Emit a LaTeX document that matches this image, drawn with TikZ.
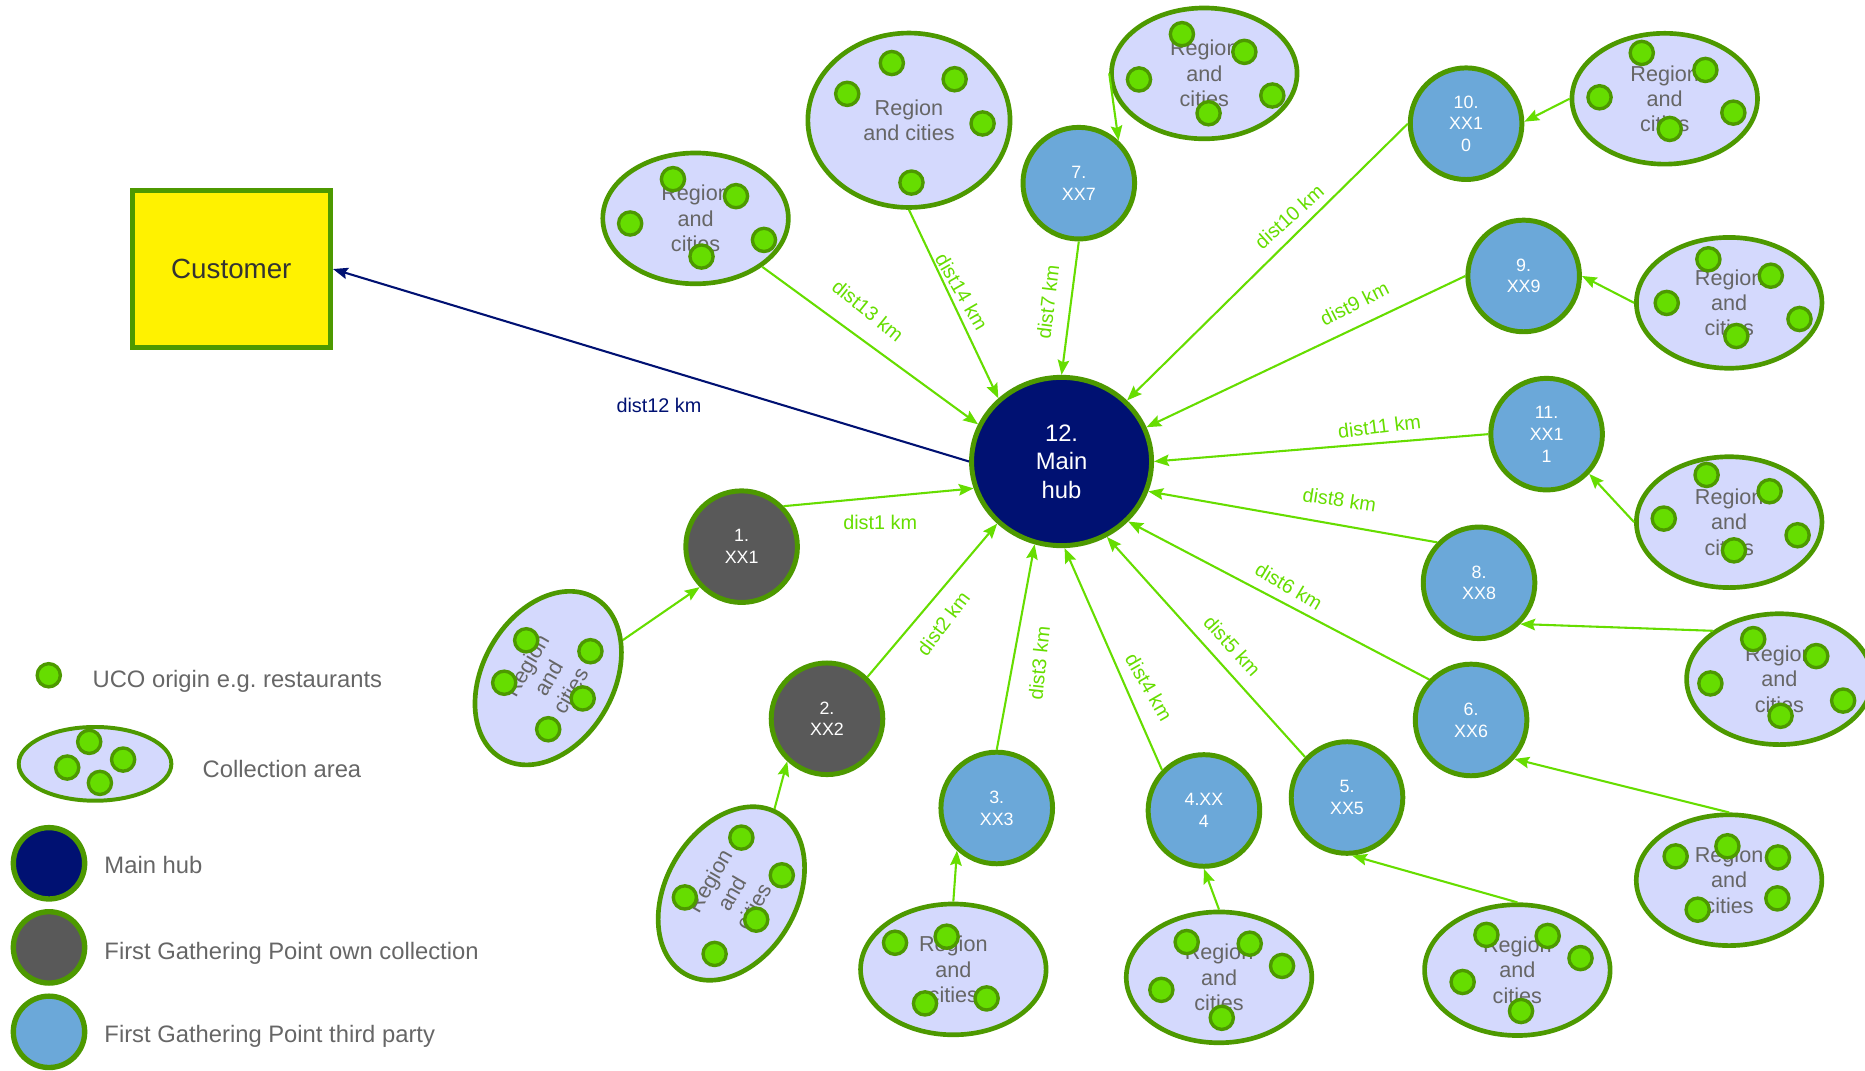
\documentclass[tikz,border=0pt]{standalone}
\usepackage{fontspec}
\setmainfont{Liberation Sans}
\usetikzlibrary{shapes.geometric,arrows.meta}
\definecolor{bord}{HTML}{4D9900}
\definecolor{dotf}{HTML}{66DD00}
\definecolor{edgec}{HTML}{66DD00}
\definecolor{hubc}{HTML}{001172}
\definecolor{grayc}{HTML}{595959}
\definecolor{bluec}{HTML}{6BA8D9}
\definecolor{regc}{HTML}{D4D9FD}
\definecolor{txtc}{HTML}{666666}
\definecolor{custtxt}{HTML}{333333}
\tikzset{
  hub/.style={ellipse, draw=bord, line width=2.5pt, fill=hubc, minimum width=90.8pt, minimum height=84.9pt, inner sep=0pt, text=white, align=center, font=\fontsize{12}{14.3}\selectfont},
  fgp/.style={circle, draw=bord, line width=2.5pt, minimum size=56.3pt, inner sep=0pt, text=white, align=center, font=\fontsize{9}{11}\selectfont},
  own/.style={fgp, fill=grayc},
  third/.style={fgp, fill=bluec},
  region/.style={ellipse, draw=bord, line width=2.35pt, fill=regc, minimum width=93.6pt, minimum height=66pt, inner sep=0pt, text=txtc, align=center, font=\fontsize{10.9}{12.8}\selectfont},
  uco/.style={circle, draw=bord, line width=1.7pt, fill=dotf, minimum size=11.7pt, inner sep=0pt},
  custbox/.style={rectangle, draw=bord, line width=2.5pt, fill=yellow, minimum width=100.1pt, minimum height=78.9pt, inner sep=0pt, text=custtxt, font=\fontsize{14}{16}\selectfont},
  flow/.style={draw=edgec, line width=1.05pt, -{Stealth[length=7.5pt,width=5.8pt,inset=1.2pt]}},
  navyflow/.style={draw=hubc, line width=1.05pt, -{Stealth[length=7.5pt,width=5.8pt,inset=1.2pt]}},
  lbl/.style={text=edgec, inner sep=0pt, font=\fontsize{10}{12}\selectfont},
  legtxt/.style={anchor=base west, inner sep=0pt, text=txtc, font=\fontsize{12}{14}\selectfont},
  legcirc/.style={circle, draw=bord, line width=2.7pt, minimum size=36pt, inner sep=0pt}
}
\begin{document}
\begin{tikzpicture}[x=0.6pt,y=-0.6pt]
\useasboundingbox (0,0) rectangle (1568,900.4);

% main nodes
\node[hub] (hub) at (892.5,388) {12.\\Main\\hub};
\node[custbox] (cust) at (194.5,226.2) {Customer};
\node[own] (n1) at (623.5,459.6) {1.\\XX1};
\node[own] (n2) at (695.3,604.3) {2.\\XX2};
\node[third] (n3) at (838,679.3) {3.\\XX3};
\node[third] (n4) at (1012.2,681.4) {4.XX\\4};
\node[third] (n5) at (1132.5,670.5) {5.\\XX5};
\node[third] (n6) at (1236.8,605.3) {6.\\XX6};
\node[third] (n7) at (907,154) {7.\\XX7};
\node[third] (n8) at (1243.5,490) {8.\\XX8};
\node[third] (n9) at (1281,232) {9.\\XX9};
\node[third] (n10) at (1232.6,104) {10.\\XX1\\0};
\node[third] (n11) at (1300.3,365) {11.\\XX1\\1};

% collection areas
\node[region, rotate=60] (r1) at (460.9,570.1) {Region\\and\\cities};
\node[region, rotate=60] (r2) at (614.9,751.2) {Region\\and\\cities};
\node[region] (r3) at (801.5,815) {Region\\and\\cities};
\node[region] (r4) at (1024.9,821.7) {Region\\and\\cities};
\node[region] (r5) at (1275.7,815.6) {Region\\and\\cities};
\node[region] (r6) at (1453.7,740) {Region\\and\\cities};
\node[region] (r7) at (1012.5,61.7) {Region\\and\\cities};
\node[region] (r8) at (1496,571) {Region\\and\\cities};
\node[region] (r9) at (1453.8,254.6) {Region\\and\\cities};
\node[region] (r10) at (1399.6,83) {Region\\and\\cities};
\node[region] (r11) at (1453.8,439) {Region\\and\\cities};
\node[region] (r13) at (584.8,183.6) {Region\\and\\cities};
\node[region, minimum width=102pt, minimum height=88pt] (r14) at (764.2,101.1) {Region\\and cities};

% UCO origins
\foreach \px/\py [count=\k] in {
  442.4/538.3, 496.4/547.5, 423.9/574, 489.9/587.2, 460.9/613.1,
  623.3/704.2, 657.3/735.9, 575.8/754.5, 635.8/773.2, 600.8/802,
  752.5/792.6, 795.9/787.5, 829.5/839.4, 777.7/843.6,
  997.7/792, 1050.7/793.4, 1077.9/812.1, 976.4/832.2, 1027.2/855.7,
  1249.7/786, 1301.2/786.9, 1328.8/805.5, 1229.7/825.6, 1278.8/850,
  1452.3/711.5, 1408.8/720, 1494.8/720.9, 1494.3/755.3, 1427.3/764.8,
  993.7/28.7, 1046.2/43.6, 957.6/66.8, 1069.7/80.3, 1016.1/95.2,
  1474/537.3, 1527/551.6, 1438/574.6, 1549.6/589, 1497/601.8,
  1436.3/218, 1488.8/231.8, 1401.3/254.7, 1512.9/268.2, 1459.8/282.5,
  1380.3/44.5, 1433.8/58.8, 1344.8/81.8, 1457.3/94.7, 1403.8/108.4,
  1434.8/399.3, 1487.8/413, 1398.8/436, 1511.3/450, 1457.8/462.7,
  565.8/150.6, 618.8/164.9, 529.8/187.9, 642.3/201.7, 589.8/215.7,
  749.8/53, 802.6/66.6, 712.3/78.9, 826.1/103.8, 766.3/153.5}
  \node[uco] (uco\k) at (\px,\py) {};

% connectors
\draw[flow] (r13.-36) -- (hub.156);
\draw[flow] (r14.south) -- (hub.135);
\draw[flow] (r7.west) -- (n7.47);
\draw[flow] (n7.south) -- (hub.north);
\draw[flow] (r10.west) -- (n10.2);
\draw[flow] (n10.west) -- (hub.43);
\draw[flow] (r9.west) -- (n9.east);
\draw[flow] (n9.west) -- (hub.22);
\draw[flow] (r11.west) -- (n11.-43);
\draw[flow] (n11.west) -- (hub.east);
\draw[flow] (r8.144) -- (n8.-45);
\draw[flow] (n8.136) -- (hub.-19.5);
\draw[flow] (r6.north) -- (n6.-42);
\draw[flow] (n6.136) -- (hub.-42);
\draw[flow] (r5.north) -- (n5.-85);
\draw[flow] (n5.136) -- (hub.-59);
\draw[flow] (r4.north) -- (n4.south);
\draw[flow] (n4.136) -- (hub.-88);
\draw[flow] (r3.north) -- (n3.-133);
\draw[flow] (n3.north) -- (hub.-108);
\draw[flow] (r2.3) -- (n2.-133);
\draw[flow] (n2.46) -- (hub.-136);
\draw[flow] (r1.-33) -- (n1.-136);
\draw[flow] (n1.44) -- (hub.-163);
\draw[navyflow] (hub.west) -- (cust.east);

% distance labels
\node[lbl, text=hubc] (l12) at (554,340.5) {dist12 km};
\node[lbl, rotate=-39] (l13) at (729.8,261) {dist13 km};
\node[lbl, rotate=-60] (l14) at (808.6,245.3) {dist14 km};
\node[lbl, rotate=83] (l7) at (881,253.9) {dist7 km};
\node[lbl, rotate=42] (l10) at (1083.8,182.1) {dist10 km};
\node[lbl, rotate=27] (l9) at (1138.7,255.3) {dist9 km};
\node[lbl, rotate=7] (l11) at (1159.7,358.6) {dist11 km};
\node[lbl, rotate=-9] (l8) at (1126.2,420.2) {dist8 km};
\node[lbl, rotate=-31] (l6) at (1083.7,493) {dist6 km};
\node[lbl, rotate=-48] (l5) at (1036.1,543.2) {dist5 km};
\node[lbl, rotate=-60] (l4) at (966,577.7) {dist4 km};
\node[lbl, rotate=84] (l3) at (873.6,557.6) {dist3 km};
\node[lbl, rotate=53] (l2) at (793,524) {dist2 km};
\node[lbl] (l1) at (740,438.9) {dist1 km};

% legend
\node[uco] (leguco) at (41,567.7) {};
\node[legtxt] (t1) at (77.5,578.3) {UCO origin e.g.\ restaurants};
\node[region, minimum width=77pt, minimum height=37.2pt, line width=2pt] (legreg) at (79.9,642.2) {};
\node[uco] (lu1) at (75,623.7) {};
\node[uco] (lu2) at (103.5,638.6) {};
\node[uco] (lu3) at (56.5,645.3) {};
\node[uco] (lu4) at (84,658.2) {};
\node[legtxt] (t2) at (170,654) {Collection area};
\node[legcirc, fill=hubc] (lhub) at (41.2,725.8) {};
\node[legtxt] (t3) at (87.5,734) {Main hub};
\node[legcirc, fill=grayc] (lown) at (41.2,796.5) {};
\node[legtxt] (t4) at (87.5,806.5) {First Gathering Point own collection};
\node[legcirc, fill=bluec] (lthird) at (41.2,867.5) {};
\node[legtxt] (t5) at (87.5,876.5) {First Gathering Point third party};
\end{tikzpicture}
\end{document}
